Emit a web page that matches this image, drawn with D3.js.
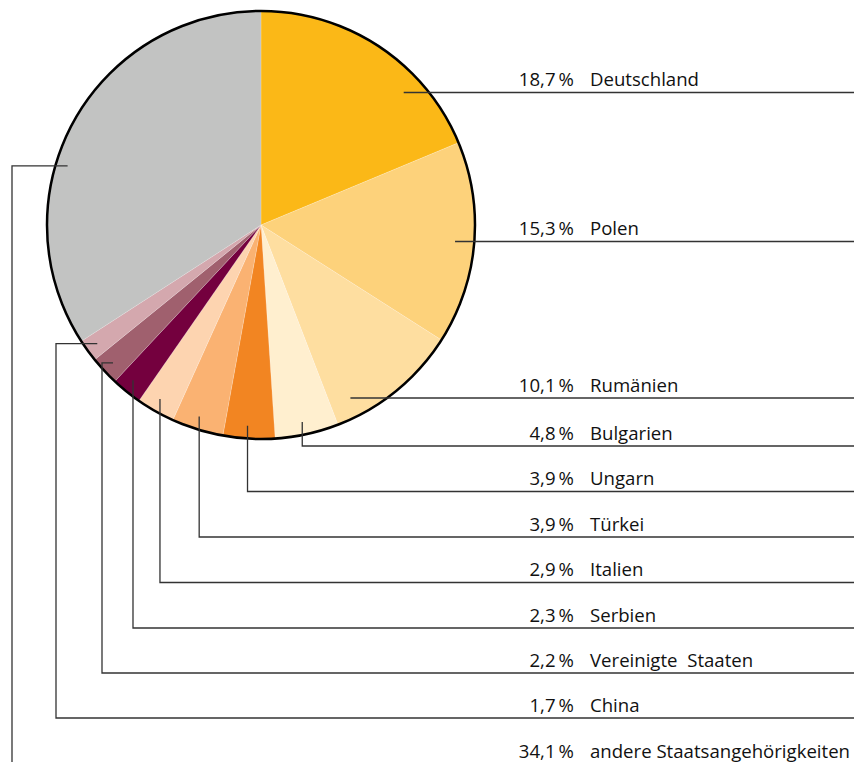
<!DOCTYPE html>
<html>
<head>
<meta charset="utf-8">
<script src="https://cdn.jsdelivr.net/npm/d3@7"></script>
<style>
  body { margin: 0; background: #fff; }
  svg text { font-family: "Open Sans", sans-serif; font-size: 18.6px; fill: #111; }
</style>
</head>
<body>
<svg id="chart" width="854" height="762"></svg>
<script>
// data
var countries = ["Deutschland", "Polen", "Rumänien", "Bulgarien", "Ungarn", "Türkei",
                 "Italien", "Serbien", "Vereinigte  Staaten", "China", "andere Staatsangehörigkeiten"];
var shares = [18.7, 15.3, 10.1, 4.8, 3.9, 3.9, 2.9, 2.3, 2.2, 1.7, 34.1];
var colors = ["#fbb817", "#fdd27b", "#fedea0", "#ffefcf", "#f28522", "#fab272",
              "#fdd4b0", "#74003e", "#a0606e", "#d4a8ae", "#c2c3c2"];

// layout
var width = 854, height = 762;
var cx = 261, cy = 225, radius = 214;
var rowY = [92.5, 241.5, 398, 446, 491.5, 537, 582.5, 628, 673, 718, 764];
var leaderType = ["h", "h", "h", "v", "v", "v", "v", "v", "e", "e", "e"];
var elbowX = [null, null, null, null, null, null, null, null, 102, 56, 12];
var pctX = 574, nameX = 590;

var svg = d3.select("#chart");

var pie = d3.pie().sort(null).value(d => d.value);
var rows = countries.map((c, i) => ({name: c, value: shares[i], color: colors[i], i: i}));
var arcs = pie(rows);

var arc = d3.arc().innerRadius(0).outerRadius(radius);

var g = svg.append("g").attr("transform", `translate(${cx},${cy})`);

g.selectAll("path").data(arcs).enter().append("path")
    .attr("d", arc)
    .attr("fill", d => d.data.color)
    .attr("stroke", "#fff")
    .attr("stroke-width", 0.5)
    .attr("stroke-opacity", 0.35);

g.append("circle")
    .attr("r", radius)
    .attr("fill", "none")
    .attr("stroke", "#000")
    .attr("stroke-width", 2.5);

// leader lines
function pointAt(angle, r) {
  return [cx + r * Math.sin(angle), cy - r * Math.cos(angle)];
}

var deg = Math.PI / 180;

var leaderPath = function(d) {
  var i = d.data.i, y = rowY[i];
  var mid = (d.startAngle + d.endAngle) / 2;
  if (leaderType[i] === "h") {
    var r = radius * 0.91;
    var x0 = cx + Math.sqrt(r * r - (y - cy) * (y - cy));
    return `M${x0},${y}H${width}`;
  }
  if (leaderType[i] === "v") {
    var p = pointAt(mid + 0.6 * deg, radius * 0.94);
    return `M${p[0]},${p[1]}V${y}H${width}`;
  }
  // elbow leaders on the left side
  var a2 = d.data.name.startsWith("andere") ? 287 * deg : mid;
  var p2 = pointAt(a2, radius * 0.945);
  return `M${p2[0]},${p2[1]}H${elbowX[i]}V${y}H${width}`;
};

svg.append("g").selectAll("path").data(arcs).enter().append("path")
    .attr("d", leaderPath)
    .attr("fill", "none")
    .attr("stroke", "#333")
    .attr("stroke-width", 1.3);

// labels
var fmt = v => v.toFixed(1).replace(".", ",") + "\u2009%";

var labels = svg.append("g").selectAll("g").data(rows).enter().append("g");

labels.append("text")
    .attr("x", pctX)
    .attr("y", d => rowY[d.i] - 6.5)
    .attr("text-anchor", "end")
    .text(d => fmt(d.value));

labels.append("text")
    .attr("x", nameX)
    .attr("y", d => rowY[d.i] - 6.5)
    .attr("xml:space", "preserve")
    .style("white-space", "pre")
    .text(d => d.name);
</script>
</body>
</html>
